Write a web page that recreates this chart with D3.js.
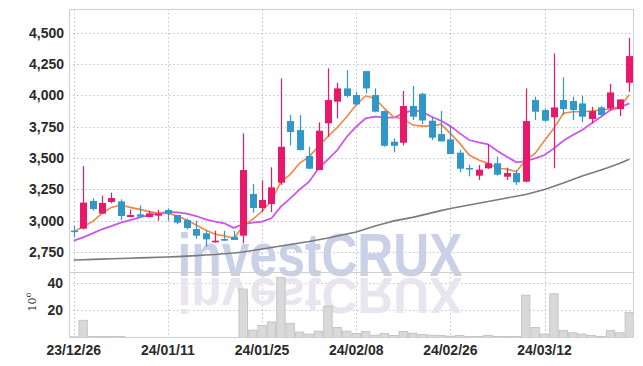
<!DOCTYPE html>
<html>
<head>
<meta charset="utf-8">
<script src="https://cdn.jsdelivr.net/npm/d3@7"></script>
<style>
  body { margin: 0; background: #fff; }
  svg { display: block; }
  .tick-label { font-family: "Liberation Sans Narrow", "Liberation Sans", sans-serif; font-weight: bold; font-size: 14px; fill: #2a2a2a; }
</style>
</head>
<body>
<svg id="chart" width="643" height="366"></svg>
<script>
// trading days (yy/mm/dd)
var dates = ["23/12/26","23/12/27","23/12/28","24/01/02","24/01/03","24/01/04","24/01/05","24/01/08","24/01/09","24/01/10",
  "24/01/11","24/01/12","24/01/15","24/01/16","24/01/17","24/01/18","24/01/19","24/01/22","24/01/23","24/01/24",
  "24/01/25","24/01/26","24/01/29","24/01/30","24/01/31","24/02/01","24/02/02","24/02/05","24/02/06","24/02/07",
  "24/02/08","24/02/13","24/02/14","24/02/15","24/02/16","24/02/19","24/02/20","24/02/21","24/02/22","24/02/23",
  "24/02/26","24/02/27","24/02/28","24/02/29","24/03/04","24/03/05","24/03/06","24/03/07","24/03/08","24/03/11",
  "24/03/12","24/03/13","24/03/14","24/03/15","24/03/18","24/03/19","24/03/20","24/03/21","24/03/22","24/03/25"];

var opens = [2920,2936,3157,3056,3149,3154,3029,3050,3029,3040,3085,3045,3005,2933,2899,2827,2854,2872,2880,3213,
  3101,3133,3303,3795,3723,3516,3404,3777,3950,4056,4003,4194,4003,3875,3630,3622,3915,4013,3798,3691,
  3649,3543,3420,3359,3418,3458,3351,3380,3311,3963,3883,3825,3963,3955,3936,3811,3904,3896,3891,4101];
var highs = [2960,3436,3178,3200,3223,3170,3090,3122,3080,3085,3098,3045,3016,3000,2920,2920,2920,2920,3697,3293,
  3322,3426,4136,3843,3843,3590,3785,4216,4101,4202,4029,4194,4056,3880,3657,4037,4075,4021,3830,3875,
  3755,3564,3447,3444,3609,3511,3423,3404,4056,3990,3896,4335,4144,3990,3998,3909,3915,4091,3968,4460];
var lows = [2870,2930,3080,3056,3138,3005,3029,3027,3029,3000,3000,2971,2930,2856,2792,2824,2840,2846,2819,3064,
  3069,3069,3285,3601,3559,3410,3404,3670,3817,3984,3920,4016,3865,3590,3545,3601,3803,3771,3643,3633,
  3532,3386,3354,3325,3413,3359,3325,3285,3306,3803,3790,3418,3843,3803,3785,3777,3838,3883,3835,4029];
var closes = [2915,3144,3093,3141,3181,3037,3045,3032,3058,3056,3056,2984,2941,2880,2851,2840,2840,2846,3404,3101,
  3165,3266,3590,3708,3564,3415,3718,3963,4056,3995,3928,4056,3870,3598,3598,3915,3830,3800,3662,3633,
  3532,3415,3413,3407,3458,3367,3380,3306,3795,3870,3798,3904,3891,3883,3830,3875,3843,4024,3968,4314];

// volume, millions
var volume = [0.5,12.6,0.7,0.7,0.7,0.7,0,0,0,0,0,0,0,0,0,0,0,0,35.5,5.4,
  8.9,11.4,44,10.4,4.0,2.5,4.7,23,7.4,4.7,3.0,4.4,1.7,3.0,1.5,4.4,3.2,2.2,1.7,1.5,
  1.0,1.5,0.7,0.7,1.5,0.7,0.7,0.7,31,7.4,2.5,32,5.2,3.5,2.5,1.5,0.7,5.2,3.5,18.5];

// moving averages
var maShort = [2912,2952,2992,3058,3106,3125,3106,3090,3072,3058,3058,3037,3005,2965,2925,2891,2880,2857,2960,3010,
  3075,3160,3310,3370,3460,3510,3595,3672,3745,3830,3925,3997,3976,3896,3825,3814,3763,3755,3755,3771,
  3697,3617,3524,3484,3458,3418,3412,3391,3484,3537,3640,3737,3857,3870,3870,3875,3883,3891,3910,4006];
var maMid = [2840,2867,2899,2931,2957,2984,3005,3027,3045,3058,3069,3066,3056,3037,3011,2992,2979,2942,2973,2984,
  2992,3019,3112,3178,3250,3311,3418,3489,3564,3670,3750,3817,3830,3825,3822,3857,3883,3870,3830,3798,
  3755,3697,3644,3625,3609,3556,3511,3466,3476,3497,3524,3577,3638,3684,3724,3777,3830,3883,3904,3936];
var maLong = [2686,2688,2691,2693,2696,2698,2700,2703,2705,2708,2710,2713,2717,2721,2726,2730,2736,2742,2750,2762,
  2774,2786,2798,2810,2822,2834,2848,2862,2878,2894,2910,2934,2958,2978,2998,3012,3026,3044,3062,3080,
  3097,3111,3125,3139,3153,3167,3181,3195,3209,3229,3249,3275,3301,3329,3357,3381,3405,3430,3458,3490];

var priceTicks = [2750, 3000, 3250, 3500, 3750, 4000, 4250, 4500];
var volumeTicks = [20, 40];
var dateTicks = ["23/12/26","24/01/11","24/01/25","24/02/08","24/02/26","24/03/12"];

var svg = d3.select("#chart");
var plotLeft = 69, plotRight = 634, plotTop = 9, plotMid = 272, plotBottom = 337.5;

var x = d3.scaleBand().domain(dates).range([plotLeft, plotRight]).padding(0);
var y = d3.scaleLinear().domain([2590, 4690]).range([plotMid, plotTop]);
var yv = d3.scaleLinear().domain([0, 48]).range([plotBottom, plotMid]);
var cx = function(d) { return x(d) + x.bandwidth() / 2; };

var gridColor = "#bcc2da";

// grid
var grid = svg.append("g");
grid.selectAll("line.h")
  .data(priceTicks)
  .join("line")
  .attr("x1", plotLeft).attr("x2", plotRight)
  .attr("y1", d => Math.round(y(d)) + 0.5).attr("y2", d => Math.round(y(d)) + 0.5)
  .style("stroke", gridColor).style("stroke-dasharray", "1.5,2.5");
grid.selectAll("line.hv")
  .data(volumeTicks)
  .join("line")
  .attr("x1", plotLeft).attr("x2", plotRight)
  .attr("y1", d => Math.round(yv(d)) + 0.5).attr("y2", d => Math.round(yv(d)) + 0.5)
  .style("stroke", gridColor).style("stroke-dasharray", "1.5,2.5");
grid.selectAll("line.v")
  .data(dateTicks)
  .join("line")
  .attr("x1", d => Math.round(cx(d)) + 0.5).attr("x2", d => Math.round(cx(d)) + 0.5)
  .attr("y1", plotTop).attr("y2", plotBottom)
  .style("stroke", gridColor).style("stroke-dasharray", "1.5,2.5");

// watermark with reflection
var wm = svg.append("g");
wm.append("text")
  .attr("x", 320).attr("y", 276)
  .attr("text-anchor", "middle")
  .attr("textLength", 285).attr("lengthAdjust", "spacingAndGlyphs")
  .style("font-family", "Liberation Sans Narrow, Liberation Sans, sans-serif")
  .style("font-weight", "bold").style("font-size", "62px")
  .style("fill", "#c9d0e7")
  .text("investCRUX");
wm.append("text")
  .attr("transform", "translate(0,278) scale(1,-0.8) translate(0,-278)")
  .attr("x", 320).attr("y", 278)
  .attr("text-anchor", "middle")
  .attr("textLength", 285).attr("lengthAdjust", "spacingAndGlyphs")
  .style("font-family", "Liberation Sans Narrow, Liberation Sans, sans-serif")
  .style("font-weight", "bold").style("font-size", "62px")
  .style("fill", "#e8e5ee")
  .text("investCRUX");

// volume bars
svg.append("g")
  .selectAll("rect.vol")
  .data(dates)
  .join("rect")
  .attr("x", d => x(d) + 0.5)
  .attr("width", x.bandwidth() - 1)
  .attr("y", (d, i) => yv(volume[i]))
  .attr("height", (d, i) => plotBottom - yv(volume[i]))
  .style("fill", "#d9d9d9")
  .style("stroke", "#bdbdbd")
  .style("stroke-width", 0.8);

// moving average lines
var lines = [[maLong, "#7a7a7a", 1.6], [maMid, "#cc55ee", 1.8], [maShort, "#f0874a", 1.6]];
lines.forEach(function(l) {
  var line = d3.line()
    .x((d, i) => cx(dates[i]))
    .y(d => y(d));
  svg.append("path")
    .datum(l[0])
    .attr("d", line)
    .style("fill", "none")
    .style("stroke", l[1])
    .style("stroke-width", l[2]);
});

// candles
var upColor = "#e8186a", downColor = "#3196c8";
var candles = svg.append("g")
  .selectAll("g.candle")
  .data(dates)
  .join("g");
candles.append("line")
  .attr("x1", d => Math.round(cx(d)) + 0.5).attr("x2", d => Math.round(cx(d)) + 0.5)
  .attr("y1", (d, i) => y(highs[i])).attr("y2", (d, i) => y(lows[i]))
  .style("stroke", (d, i) => closes[i] >= opens[i] ? upColor : downColor)
  .style("stroke-width", 1.2);
candles.append("rect")
  .attr("x", d => Math.round(cx(d)) + 0.5 - 3.5)
  .attr("width", 7)
  .attr("y", (d, i) => y(Math.max(opens[i], closes[i])))
  .attr("height", (d, i) => Math.max(1.5, Math.abs(y(opens[i]) - y(closes[i]))))
  .style("fill", (d, i) => closes[i] >= opens[i] ? upColor : downColor);

// frame
var frame = svg.append("g").style("stroke", "#cfcfcf").style("fill", "none");
frame.append("rect").attr("x", plotLeft + 0.5).attr("y", plotTop + 0.5).attr("width", plotRight - plotLeft - 1).attr("height", plotBottom - plotTop - 0.5);
frame.append("line").attr("x1", plotLeft).attr("x2", plotRight).attr("y1", plotMid + 0.5).attr("y2", plotMid + 0.5);

// axes labels
svg.append("g")
  .selectAll("text")
  .data(priceTicks)
  .join("text")
  .classed("tick-label", true)
  .attr("x", 64)
  .attr("y", d => y(d) + 5)
  .attr("text-anchor", "end")
  .text(d => d3.format(",")(d));

svg.append("g")
  .selectAll("text")
  .data(volumeTicks)
  .join("text")
  .classed("tick-label", true)
  .attr("x", 63)
  .attr("y", d => yv(d) + 5)
  .attr("text-anchor", "end")
  .text(d => d);

svg.append("g")
  .selectAll("text")
  .data(dateTicks)
  .join("text")
  .classed("tick-label", true)
  .attr("x", d => cx(d))
  .attr("y", 355)
  .attr("text-anchor", "middle")
  .text(d => d);

var unit = svg.append("text")
  .attr("transform", "translate(36,302) rotate(-90)")
  .attr("text-anchor", "middle")
  .style("font-family", "DejaVu Serif, serif")
  .style("font-size", "11px")
  .style("fill", "#333");
unit.append("tspan").text("10");
unit.append("tspan").attr("dy", -5).style("font-size", "8px").text("6");
</script>
</body>
</html>
